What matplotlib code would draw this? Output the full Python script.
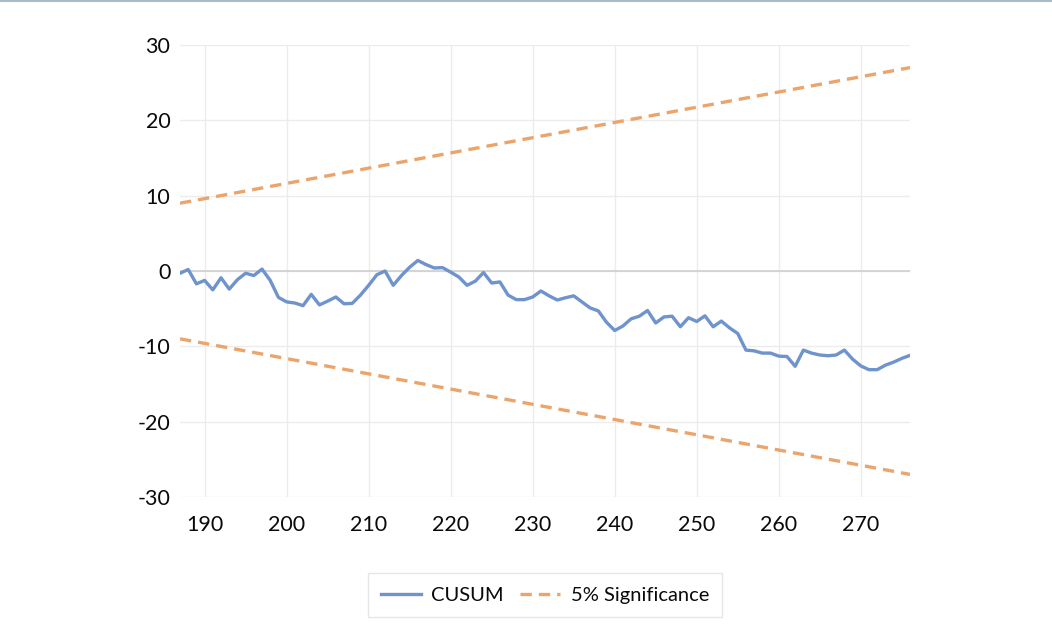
import numpy as np
import matplotlib.pyplot as plt
from matplotlib.lines import Line2D

# recursive-residual CUSUM, observations 187..276
periods = list(range(187, 277))
cusum = [
    -0.3, 0.2, -1.7, -1.25, -2.5, -0.9, -2.4, -1.15, -0.3, -0.6,
    0.25, -1.25, -3.5, -4.1, -4.25, -4.6, -3.1, -4.5, -4.0, -3.45,
    -4.35, -4.3, -3.2, -1.9, -0.5, 0.0, -1.9, -0.6, 0.5, 1.4,
    0.85, 0.4, 0.45, -0.15, -0.8, -1.9, -1.35, -0.2, -1.6, -1.45,
    -3.2, -3.8, -3.8, -3.45, -2.65, -3.3, -3.85, -3.55, -3.3, -4.1,
    -4.9, -5.3, -6.8, -7.9, -7.3, -6.35, -6.0, -5.25, -6.9, -6.1,
    -6.0, -7.4, -6.2, -6.7, -5.95, -7.4, -6.65, -7.55, -8.3, -10.5,
    -10.6, -10.9, -10.9, -11.3, -11.35, -12.65, -10.5, -10.9, -11.15, -11.25,
    -11.15, -10.5, -11.7, -12.6, -13.1, -13.1, -12.5, -12.1, -11.6, -11.2,
]
# 5% bounds are straight lines between the end points
bound_x = [187, 276]
bound_upper = [9.0, 27.0]
bound_lower = [-9.0, -27.0]

x_ticks = list(range(190, 271, 10))
y_ticks = list(range(-30, 31, 10))

blue = "#6f93cd"
orange = "#eba46b"

plt.rcParams["font.family"] = ["Lato", "DejaVu Sans"]
plt.rcParams["axes.unicode_minus"] = False

fig = plt.figure(figsize=(10.52, 6.43), dpi=100)
ax = fig.add_axes([180 / 1052, 1 - 497 / 643, 730 / 1052, 452 / 643])

ax.plot(periods, cusum, color=blue, lw=2.4, solid_joinstyle="round", zorder=3)
ax.plot(bound_x, bound_upper, color=orange, lw=2.4, dashes=(3.4, 2.1), zorder=3)
ax.plot(bound_x, bound_lower, color=orange, lw=2.4, dashes=(3.4, 2.1), zorder=3)

ax.set_xlim(187, 276)
ax.set_ylim(-30, 30)
ax.set_xticks(x_ticks)
ax.set_yticks(y_ticks)
ax.grid(True, color="#ececec", lw=1.0)
ax.axhline(0, color="#cfcfcf", lw=1.2, zorder=1)
ax.set_axisbelow(True)
for s in ax.spines.values():
    s.set_visible(False)
ax.tick_params(length=0, labelsize=15.5, colors="#0a0a0a")
ax.tick_params(axis="x", pad=13)
ax.tick_params(axis="y", pad=7)

handles = [
    Line2D([], [], color=blue, lw=2.4),
    Line2D([], [], color=orange, lw=2.4, dashes=(3.4, 2.1)),
]
leg = fig.legend(handles, ["CUSUM", "5% Significance"], loc="center",
                 bbox_to_anchor=(545 / 1052, 1 - 595 / 643), ncol=2,
                 fontsize=14.5, frameon=True, fancybox=False, handlelength=2.0,
                 columnspacing=0.8, handletextpad=0.5, borderpad=0.65,
                 borderaxespad=0)
leg.get_frame().set_edgecolor("#e2e2e2")
leg.get_frame().set_linewidth(1.0)
for t in leg.get_texts():
    t.set_color("#0a0a0a")

# thin border strip along the top edge
fig.add_artist(Line2D([0, 1], [0.998, 0.998], transform=fig.transFigure,
                      color="#a9bcc7", lw=1.5))

fig.savefig("out.png", dpi=100)
